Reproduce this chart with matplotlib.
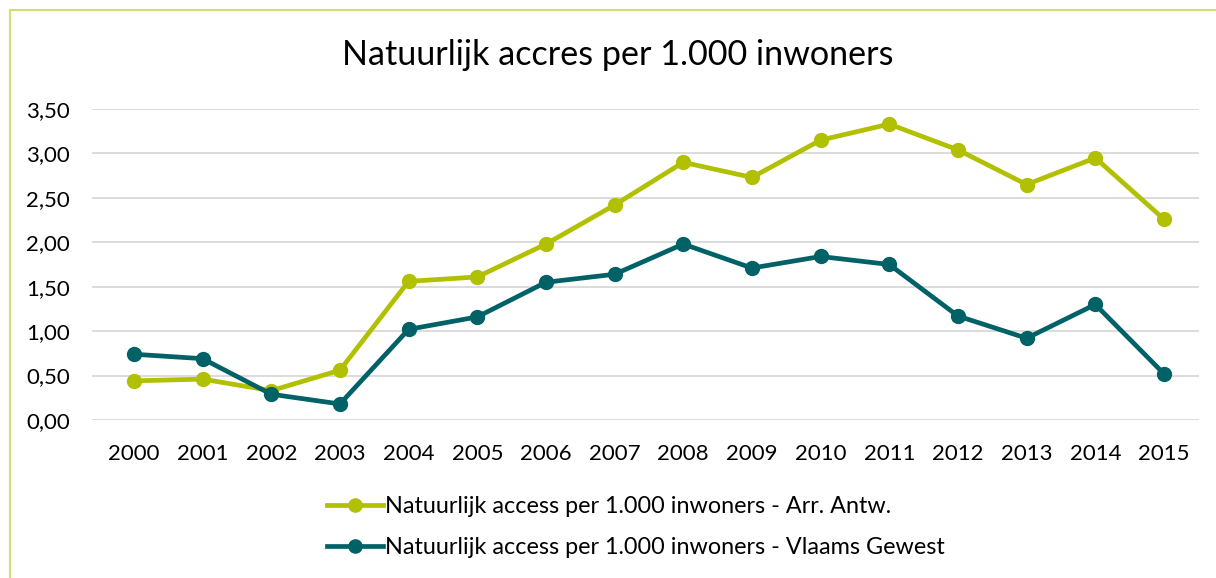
import matplotlib
matplotlib.use('Agg')
import matplotlib.pyplot as plt
import matplotlib.patches as patches

years = ['2000', '2001', '2002', '2003', '2004', '2005', '2006', '2007',
         '2008', '2009', '2010', '2011', '2012', '2013', '2014', '2015']
antwerpen = [0.44, 0.46, 0.33, 0.56, 1.56, 1.61, 1.98, 2.42,
             2.90, 2.73, 3.15, 3.33, 3.04, 2.65, 2.95, 2.26]
vlaanderen = [0.74, 0.69, 0.29, 0.18, 1.02, 1.16, 1.55, 1.64,
              1.98, 1.71, 1.84, 1.75, 1.17, 0.92, 1.30, 0.52]
yticks = [0.0, 0.5, 1.0, 1.5, 2.0, 2.5, 3.0, 3.5]

label_a = 'Natuurlijk access per 1.000 inwoners - Arr. Antw.'
label_v = 'Natuurlijk access per 1.000 inwoners - Vlaams Gewest'

plt.rcParams['font.family'] = ['Lato', 'DejaVu Sans']

fig = plt.figure(figsize=(12.16, 5.78), dpi=100)
ax = fig.add_axes([0.0757, 0.2734, 0.9103, 0.538])

x = list(range(len(years)))
ax.plot(x, antwerpen, color='#B1C000', lw=3.4, marker='o', ms=10, label=label_a, zorder=3)
ax.plot(x, vlaanderen, color='#006266', lw=3.4, marker='o', ms=10, label=label_v, zorder=3)

ax.set_xlim(-0.61, 15.51)
ax.set_ylim(0, 3.5)
ax.set_yticks(yticks)
ax.set_yticklabels([f'{v:.2f}'.replace('.', ',') for v in yticks])
ax.set_xticks(x)
ax.set_xticklabels(years)
ax.tick_params(axis='both', length=0, labelsize=16, colors='black')
ax.tick_params(axis='y', pad=16)
ax.tick_params(axis='x', pad=17)
ax.grid(axis='y', color='#D9D9D9', lw=1.3, zorder=0)
for s in ax.spines.values():
    s.set_visible(False)

fig.text(0.508, 0.905, 'Natuurlijk accres per 1.000 inwoners', ha='center', va='center', fontsize=24.6)

leg = fig.legend(loc='center left', bbox_to_anchor=(327 / 1216, 0.088), ncol=1, frameon=False,
                 fontsize=16.8, handlelength=2.4, handletextpad=0.1, labelspacing=0.85,
                 borderpad=0, borderaxespad=0, markerscale=0.95)

# chart frame
fig.patches.append(patches.Rectangle((10 / 1216, -0.05), 1.2, 1 - 10 / 578 + 0.05,
                                     transform=fig.transFigure, fill=False,
                                     ec='#D6DC70', lw=1.5))

fig.savefig('out.png', dpi=100, facecolor='white')
